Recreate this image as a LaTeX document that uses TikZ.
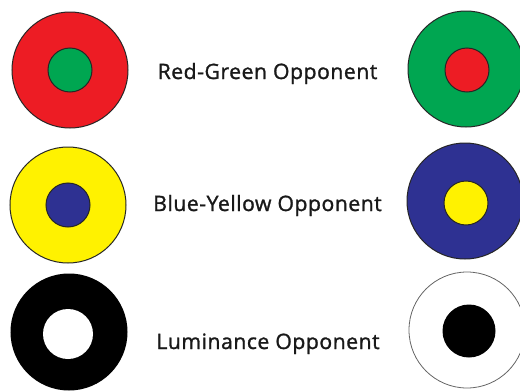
\documentclass[tikz,border=0pt]{standalone}
\usepackage{fontspec}
\setmainfont{Open Sans}
\newfontfamily\labelfont[LetterSpace=2.4, FakeBold=1.3]{Open Sans}
\usepackage{tikz}
\usetikzlibrary{positioning}
\definecolor{myred}{RGB}{237,28,36}
\definecolor{mygreen}{RGB}{0,166,81}
\definecolor{myyellow}{RGB}{255,242,0}
\definecolor{myblue}{RGB}{46,49,146}

\begin{document}
\begin{tikzpicture}[x=1pt,y=-1pt]
  \tikzset{
    ring/.style={draw=black!85, line width=1pt, circle, inner sep=0pt, minimum size=116pt},
    spot/.style={draw=black!85, line width=1pt, circle, inner sep=0pt, minimum size=44pt},
    label/.style={anchor=base, inner sep=0pt, font=\labelfont\fontsize{21.2}{25}\selectfont, text=black!90}
  }
  \useasboundingbox (0,0) rectangle (520,391);

  % Red-Green
  \node[ring, fill=myred] (rgl) at (70,70) {};
  \node[spot, fill=mygreen] (rgls) at (rgl.center) {};
  \node[ring, fill=mygreen] (rgr) at (466,69) {};
  \node[spot, fill=myred] (rgrs) at (467,70) {};
  \node[label] (rgtext) at (267.5,79) {Red-Green Opponent};

  % Blue-Yellow
  \node[ring, fill=myyellow] (byl) at (68,205) {};
  \node[spot, fill=myblue] (byls) at (byl.center) {};
  \node[ring, fill=myblue] (byr) at (465,201) {};
  \node[spot, fill=myyellow] (byrs) at (466,203) {};
  \node[label] (bytext) at (267.5,211) {Blue-Yellow Opponent};

  % Luminance
  \node[ring, draw=black, fill=black] (lul) at (69,332) {};
  \node[circle, fill=white, inner sep=0pt, minimum size=50pt] (luls) at (68,334) {};
  \node[ring, draw=black!60, line width=0.8pt, fill=white] (lur) at (467,330) {};
  \node[circle, fill=black, inner sep=0pt, minimum size=53pt] (lurs) at (469,331) {};
  \node[label] (lutext) at (268,349) {Luminance Opponent};
\end{tikzpicture}
\end{document}
